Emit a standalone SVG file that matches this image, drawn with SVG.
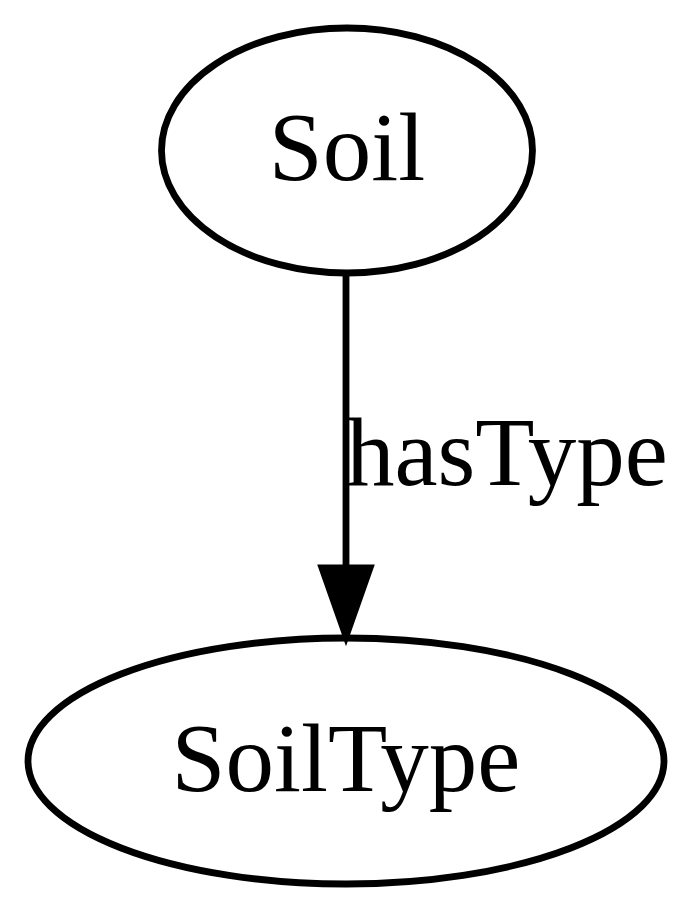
<svg xmlns="http://www.w3.org/2000/svg" width="700" height="913" viewBox="0 0 700 913">
<style>
.node ellipse{fill:none;stroke:#000;stroke-width:6.8}
.lbl{font-family:"Liberation Serif","Times New Roman",serif;font-size:97px;fill:#000}
.edge line{stroke:#000;stroke-width:6.8}
.edge polygon{fill:#000;stroke:#000;stroke-width:6.8}
</style>
<rect width="700" height="913" fill="#fff"/>
<g id="node-Soil" class="node">
<ellipse cx="347" cy="150.5" rx="185.5" ry="122.5"/>
<text class="lbl" x="347" y="180" text-anchor="middle">Soil</text>
</g>
<g id="node-SoilType" class="node">
<ellipse cx="346" cy="761" rx="318" ry="123"/>
<text class="lbl" x="346" y="791" text-anchor="middle">SoilType</text>
</g>
<g id="connectors" class="edge">
<line x1="346" y1="273" x2="346" y2="568"/>
<polygon points="322,568 370,568 346,636"/>
<text class="lbl" x="346" y="485">hasType</text>
</g>
</svg>
